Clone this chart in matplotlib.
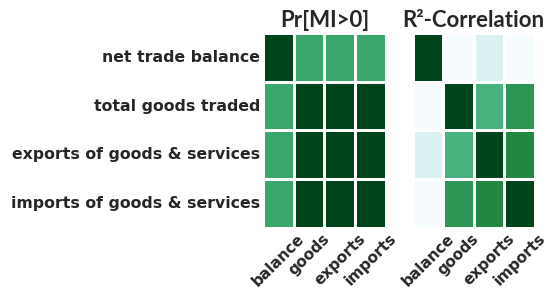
import numpy as np
import matplotlib
matplotlib.use("Agg")
import matplotlib.pyplot as plt
import seaborn as sns

# ---------------------------------------------------------
# Data
# ---------------------------------------------------------
row_labels = ["net trade balance", "total goods traded",
              "exports of goods & services", "imports of goods & services"]
col_labels = ["balance", "goods", "exports", "imports"]

pr_mi = np.array([
    [1.00, 0.65, 0.65, 0.65],
    [0.65, 1.00, 1.00, 1.00],
    [0.65, 1.00, 1.00, 1.00],
    [0.65, 1.00, 1.00, 1.00],
])

r2_corr = np.array([
    [1.00, 0.01, 0.18, 0.01],
    [0.01, 1.00, 0.60, 0.71],
    [0.18, 0.60, 1.00, 0.76],
    [0.01, 0.71, 0.76, 1.00],
])

# ---------------------------------------------------------
# Plot
# ---------------------------------------------------------
sns.set_style("white")
plt.rcParams["font.family"] = ["DejaVu Sans"]
plt.rcParams["font.weight"] = "bold"
plt.rcParams["text.color"] = "#262626"
plt.rcParams["xtick.color"] = "#262626"
plt.rcParams["ytick.color"] = "#262626"

fig = plt.figure(figsize=(5.58, 3.02), dpi=100)
ax1 = fig.add_axes([0.471, 0.245, 0.221, 0.646])
ax2 = fig.add_axes([0.740, 0.245, 0.218, 0.646])

for ax, mat, title in [(ax1, pr_mi, "Pr[MI>0]"), (ax2, r2_corr, "R²-Correlation")]:
    sns.heatmap(mat, ax=ax, cmap="BuGn", vmin=0, vmax=1, cbar=False,
                linewidths=1.0, linecolor="white", square=False)
    # titles in a narrower face, closer to the original
    ax.set_title(title, fontsize=16, fontweight="bold", pad=4, family=["Lato", "DejaVu Sans"])
    ax.set_xticks(np.arange(len(col_labels)) + 0.5)
    ax.set_xticklabels(col_labels, rotation=45, ha="center", fontsize=11, fontweight="bold")
    ax.tick_params(length=0, pad=2)

ax1.set_yticks(np.arange(len(row_labels)) + 0.5)
ax1.set_yticklabels(row_labels, rotation=0, fontsize=11.3, fontweight="bold")
ax2.set_yticks([])

fig.savefig("out.png", dpi=100)
